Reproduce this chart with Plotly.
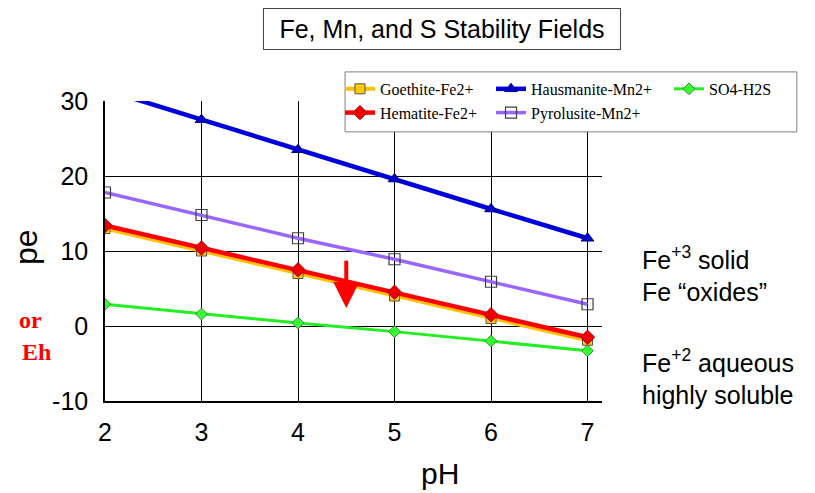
import plotly.graph_objects as go

ph = [2, 3, 4, 5, 6, 7]
goethite = [13.0, 10.0, 7.0, 4.0, 1.0, -1.9]
hematite = [13.4, 10.4, 7.5, 4.5, 1.5, -1.5]
hausmanite = [31.5, 27.5, 23.5, 19.6, 15.6, 11.7]
pyrolusite = [17.8, 14.8, 11.7, 8.9, 5.9, 2.9]
so4_h2s = [2.9, 1.6, 0.4, -0.75, -2.0, -3.3]

arrow_ph = 4.5
arrow_from = 8.9
arrow_to = 2.4

x_ticks = [2, 3, 4, 5, 6, 7]
y_ticks = [-10, 0, 10, 20, 30]
y_tick_text = ["-10", "0", "10", "20", "30"]

SANS = "Liberation Sans, Arial, sans-serif"
SERIF = "Liberation Serif, Times New Roman, serif"

fig = go.Figure()

fig.add_trace(go.Scatter(
    x=ph, y=hausmanite, name="Hausmanite-Mn2+", mode="lines+markers",
    legend="legend2", legendrank=1,
    line=dict(color="#0000DD", width=4.5),
    marker=dict(symbol="triangle-up", size=11, color="#0000CC", line=dict(color="#000080", width=1))))
fig.add_trace(go.Scatter(
    x=ph, y=pyrolusite, name="Pyrolusite-Mn2+", mode="lines+markers",
    legend="legend2", legendrank=2,
    line=dict(color="#9966FF", width=3.5),
    marker=dict(symbol="square-open", size=11, color="#404040", line=dict(color="#404040", width=1.2))))
fig.add_trace(go.Scatter(
    x=ph, y=so4_h2s, name="SO4-H2S", mode="lines+markers",
    legend="legend3", legendrank=1,
    line=dict(color="#22EE22", width=3),
    marker=dict(symbol="diamond", size=9, color="#33FF33", line=dict(color="#338833", width=1))))
fig.add_trace(go.Scatter(
    x=ph, y=goethite, name="Goethite-Fe2+", mode="lines+markers",
    legend="legend", legendrank=1,
    line=dict(color="#FFC000", width=4),
    marker=dict(symbol="square", size=10, color="#FFCC00", line=dict(color="#555555", width=1))))
fig.add_trace(go.Scatter(
    x=ph, y=hematite, name="Hematite-Fe2+", mode="lines+markers",
    legend="legend", legendrank=2,
    line=dict(color="#FF0000", width=4.5),
    marker=dict(symbol="diamond", size=11, color="#EE0000", line=dict(color="#AA0000", width=1))))

annotations = [
    dict(x=arrow_ph, y=arrow_to, ax=arrow_ph, ay=arrow_from, xref="x", yref="y",
         axref="x", ayref="y", text="", showarrow=True, arrowhead=2, arrowsize=1.3,
         arrowwidth=4, arrowcolor="#FF0000"),
    dict(x=0.678, y=1.24, xref="paper", yref="paper", text="Fe, Mn, and S Stability Fields",
         showarrow=False, font=dict(family=SANS, size=25, color="black"),
         bordercolor="#444444", borderwidth=1, borderpad=6, width=344, height=28,
         bgcolor="white", xanchor="center", yanchor="middle"),
    dict(x=-0.159, y=0.513, xref="paper", yref="paper", text="pe", textangle=-90,
         xanchor="center", yanchor="middle",
         showarrow=False, font=dict(family=SANS, size=32, color="black")),
    dict(x=-0.149, y=0.27, xref="paper", yref="paper", text="<b>or</b>",
         xanchor="center", yanchor="middle",
         showarrow=False, font=dict(family=SERIF, size=24, color="#FF0000")),
    dict(x=-0.137, y=0.163, xref="paper", yref="paper", text="<b>Eh</b>",
         xanchor="center", yanchor="middle",
         showarrow=False, font=dict(family=SERIF, size=24, color="#FF0000")),
    dict(x=0.674, y=-0.24, xref="paper", yref="paper", text="pH",
         xanchor="center", yanchor="middle",
         showarrow=False, font=dict(family=SANS, size=30, color="black")),
    dict(x=1.076, y=0.423, xref="paper", yref="paper", xanchor="left", yanchor="middle",
         align="left", text="Fe<sup>+3</sup> solid<br>Fe “oxides”",
         showarrow=False, font=dict(family=SANS, size=25, color="black")),
    dict(x=1.076, y=0.08, xref="paper", yref="paper", xanchor="left", yanchor="middle",
         align="left", text="Fe<sup>+2</sup> aqueous<br>highly soluble",
         showarrow=False, font=dict(family=SANS, size=25, color="black")),
]

legend_common = dict(orientation="v", y=1.097, xanchor="left", yanchor="top",
                     bgcolor="rgba(0,0,0,0)", borderwidth=0,
                     font=dict(family=SERIF, size=16, color="black"),
                     traceorder="normal", tracegroupgap=0)

fig.update_layout(
    width=807, height=485,
    margin=dict(l=97, r=213, t=93, b=92, autoexpand=False),
    paper_bgcolor="white", plot_bgcolor="white",
    font=dict(family=SANS, size=25, color="black"),
    showlegend=True,
    legend=dict(x=0.4728, **legend_common),
    legend2=dict(x=0.7767, **legend_common),
    legend3=dict(x=1.1348, **legend_common),
    shapes=[dict(type="rect", xref="paper", yref="paper", x0=0.483, x1=1.392,
                 y0=0.897, y1=1.097, line=dict(color="#808080", width=1),
                 fillcolor="white", layer="above")],
    annotations=annotations,
)

fig.update_xaxes(range=[2, 7.15], tickvals=x_ticks, showgrid=True, gridcolor="black",
                 gridwidth=1, showline=True, linecolor="black", linewidth=2, ticks="",
                 zeroline=False, tickfont=dict(family=SANS, size=25), ticklabelstandoff=8)
fig.update_yaxes(range=[-10, 30], tickvals=y_ticks, ticktext=y_tick_text, showgrid=True,
                 gridcolor="black", gridwidth=1, showline=True, linecolor="black",
                 linewidth=1.5, ticks="", zeroline=True, zerolinecolor="black",
                 zerolinewidth=1, tickfont=dict(family=SANS, size=25), ticklabelstandoff=10)

fig.write_html("out.html")
